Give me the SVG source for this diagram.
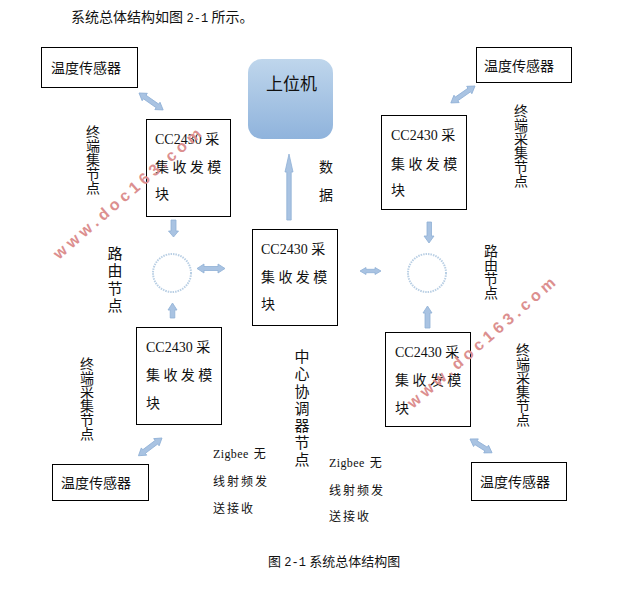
<svg xmlns="http://www.w3.org/2000/svg" width="641" height="612" viewBox="0 0 641 612">
<style>
text{font-family:"Liberation Serif","Noto Sans CJK SC",sans-serif;font-size:14px;fill:#111}
.box{fill:#fff;stroke:#000;stroke-width:1}
.sp{letter-spacing:3.4px}
.z{font-size:12px;letter-spacing:2px}
.zl{letter-spacing:.4px}
.m{font-family:"Liberation Mono",monospace;font-size:12px}
.v{writing-mode:vertical-rl;font-family:"Noto Sans CJK SC",sans-serif;text-anchor:start}
.v2{font-size:15px;letter-spacing:2.2px}
.arrow{fill:#a9c3e2;stroke:#8fb0d6;stroke-width:.8}
.router{fill:#fff;stroke:#b9cfe4;stroke-width:2;stroke-dasharray:1.5 1}
.wm{font-family:"Liberation Sans",sans-serif;font-weight:bold;font-size:16px;fill:#dc8f8f}
</style>
<defs>
<linearGradient id="g" x1="0" y1="0" x2="0" y2="1"><stop offset="0" stop-color="#bfd6ec"/><stop offset="1" stop-color="#8fb3dc"/></linearGradient>
</defs>
<text x="71" y="22">系统总体结构如图 <tspan class="m">2-1</tspan> 所示。</text>
<g id="connectors">
<polygon class="arrow" transform="translate(139,93) rotate(35)" points="0,0 7,-4.5 7,-2.2 22.5,-2.2 22.5,-4.5 29.5,0 22.5,4.5 22.5,2.2 7,2.2 7,4.5"/>
<polygon class="arrow" transform="translate(475,86) rotate(145)" points="0,0 7,-4.5 7,-2.2 22.5,-2.2 22.5,-4.5 29.5,0 22.5,4.5 22.5,2.2 7,2.2 7,4.5"/>
<polygon class="arrow" transform="translate(162,438) rotate(143)" points="0,0 7,-4.5 7,-2.2 22.5,-2.2 22.5,-4.5 29.5,0 22.5,4.5 22.5,2.2 7,2.2 7,4.5"/>
<polygon class="arrow" transform="translate(470,439) rotate(32)" points="0,0 7,-4.5 7,-2.2 19,-2.2 19,-4.5 26,0 19,4.5 19,2.2 7,2.2 7,4.5"/>
<polygon class="arrow" points="171,220 176,220 176,231 178.5,231 173.5,237 168.5,231 171,231"/>
<polygon class="arrow" points="427,222 431.500,222 431.500,236 434,236 429,243 424,236 427,236"/>
<polygon class="arrow" points="172.500,303 177,310 174.800,310 174.800,318 170.200,318 170.200,310 168,310"/>
<polygon class="arrow" points="427.500,306 432,313 430,313 430,328 425,328 425,313 423,313"/>
<polygon class="arrow" points="289,154 293,172 291.200,172 291.200,220 286.800,220 286.800,172 285,172"/>
<polygon class="arrow" points="197,268.500 204,264 204,266.500 218,266.500 218,264 225,268.500 218,273 218,270.500 204,270.500 204,273"/>
<polygon class="arrow" points="360,271 366,267.500 366,269.300 375,269.300 375,267.500 381,271 375,274.500 375,272.700 366,272.700 366,274.500"/>
</g>
<g id="sensor-tl"><rect class="box" x="41.500" y="47.500" width="96" height="40"/><text x="51" y="73">温度传感器</text></g>
<g id="sensor-tr"><rect class="box" x="476.500" y="47.500" width="95" height="35"/><text x="484" y="71">温度传感器</text></g>
<g id="sensor-bl"><rect class="box" x="52.500" y="464.500" width="96" height="36"/><text x="61" y="488">温度传感器</text></g>
<g id="sensor-br"><rect class="box" x="471.500" y="462.500" width="95" height="38"/><text x="480" y="487">温度传感器</text></g>
<g id="host"><rect x="248" y="59" width="85" height="80" rx="14" fill="url(#g)"/><text x="266" y="90" style="font-size:17px">上位机</text></g>
<g id="module-tl"><rect class="box" x="146.500" y="119.500" width="84" height="97"/><text x="155" y="144">CC2430 采</text><text class="sp" x="155" y="172">集收发模</text><text x="155" y="199">块</text></g>
<g id="module-tr"><rect class="box" x="381.500" y="115.500" width="85" height="94"/><text x="391" y="140">CC2430 采</text><text class="sp" x="391" y="169">集收发模</text><text x="391" y="195">块</text></g>
<g id="module-center"><rect class="box" x="252.500" y="229.500" width="85" height="96"/><text x="261" y="254">CC2430 采</text><text class="sp" x="261" y="282">集收发模</text><text x="261" y="309">块</text></g>
<g id="module-bl"><rect class="box" x="136.500" y="327.500" width="85" height="97"/><text x="146" y="352">CC2430 采</text><text class="sp" x="146" y="380">集收发模</text><text x="146" y="408">块</text></g>
<g id="module-br"><rect class="box" x="385.500" y="332.500" width="85" height="94"/><text x="395" y="357">CC2430 采</text><text class="sp" x="395" y="385">集收发模</text><text x="395" y="413">块</text></g>
<g id="router-left"><circle class="router" cx="172" cy="273" r="19"/></g>
<g id="router-right"><circle class="router" cx="427" cy="273" r="19"/></g>
<g id="labels">
<text class="v" x="93" y="125">终端集节点</text>
<text class="v v2" x="115" y="246">路由节点</text>
<text class="v" x="491" y="244">路由节点</text>
<text class="v" x="521" y="104">终端采集节点</text>
<text class="v" x="87" y="357">终端采集节点</text>
<text class="v" x="523" y="343">终端采集节点</text>
<text class="v v2" x="302" y="349">中心协调器节点</text>
<text x="319" y="172">数</text>
<text x="319" y="200">据</text>
<text class="z" x="213" y="458"><tspan class="zl">Zigbee</tspan>  无</text><text class="z" x="213" y="486">线射频发</text><text class="z" x="213" y="513">送接收</text>
<text class="z" x="329" y="467"><tspan class="zl">Zigbee</tspan>  无</text><text class="z" x="329" y="495">线射频发</text><text class="z" x="329" y="521">送接收</text>
<text x="268" y="566" style="font-size:13px">图 <tspan class="m">2-1</tspan> 系统总体结构图</text>
</g>
<g id="watermark">
<text class="wm" transform="translate(59,260) rotate(-41)" textLength="190" lengthAdjust="spacing">www.doc163.com</text>
<text class="wm" transform="translate(413,409) rotate(-41)" textLength="190" lengthAdjust="spacing">www.doc163.com</text>
</g>
</svg>
